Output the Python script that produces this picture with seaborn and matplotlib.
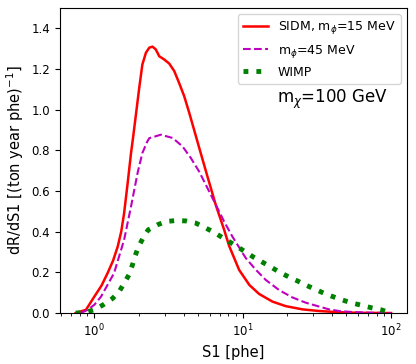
import numpy as np
import matplotlib
matplotlib.use("Agg")
import matplotlib.pyplot as plt
import seaborn as sns

# SIDM, m_phi = 15 MeV
s1_15 = [0.75, 0.88, 1.0, 1.12, 1.23, 1.34, 1.44, 1.52, 1.59, 1.68, 1.77, 1.81, 1.91, 2.01, 2.11,
         2.23, 2.35, 2.47, 2.6, 2.74, 2.96, 3.2, 3.46, 3.73, 4.04, 4.37, 4.67,
         5.09, 5.79, 6.6, 7.5, 8.11, 9.47, 11.1, 12.9, 15.9, 19.5, 25.3, 32.7,
         42.4, 60.0, 100.0]
rate_15 = [0.0, 0.016, 0.08, 0.135, 0.196, 0.258, 0.327, 0.4, 0.491, 0.639, 0.787, 0.84, 0.976, 1.107, 1.222,
           1.28, 1.305, 1.31, 1.296, 1.263, 1.247, 1.227, 1.19, 1.132, 1.066, 0.984, 0.91,
           0.814, 0.672, 0.53, 0.41, 0.33, 0.212, 0.138, 0.094, 0.056, 0.034, 0.018, 0.01,
           0.005, 0.001, 0.0]

# m_phi = 45 MeV
s1_45 = [0.81, 0.9, 1.0, 1.11, 1.36, 1.59, 1.77, 1.96, 2.11, 2.28, 2.35, 2.67,
         2.81, 3.37, 3.93, 4.48, 5.09, 5.79, 6.6, 7.5, 8.53, 10.5, 12.3, 14.3,
         17.6, 21.6, 26.6, 32.7, 38.2, 44.7, 54.8, 71.0, 100.0]
rate_45 = [0.0, 0.015, 0.04, 0.08, 0.196, 0.36, 0.524, 0.689, 0.787, 0.844, 0.86, 0.872,
           0.877, 0.861, 0.82, 0.762, 0.696, 0.615, 0.532, 0.45, 0.376, 0.27, 0.212, 0.163,
           0.113, 0.077, 0.051, 0.032, 0.018, 0.01, 0.005, 0.002, 0.0]

# WIMP
s1_wimp = [0.75, 0.88, 1.03, 1.17, 1.33, 1.47, 1.59, 1.72, 1.81, 1.89, 1.99, 2.14,
           2.31, 2.67, 3.04, 3.55, 4.14, 4.84, 5.51, 6.26, 7.13, 8.11, 9.23, 10.5,
           11.9, 13.6, 15.6, 17.8, 20.3, 23.4, 26.9, 30.8, 35.4, 40.8, 47.0, 54.8,
           63.5, 73.6, 85.7, 95.0]
rate_wimp = [0.0, 0.003, 0.02, 0.044, 0.072, 0.105, 0.146, 0.19, 0.237, 0.283, 0.327, 0.371,
             0.409, 0.434, 0.45, 0.455, 0.453, 0.442, 0.422, 0.401, 0.376, 0.351, 0.326, 0.299,
             0.274, 0.25, 0.225, 0.2, 0.179, 0.158, 0.136, 0.117, 0.097, 0.08, 0.064, 0.049,
             0.038, 0.026, 0.016, 0.005]

fig = plt.figure(figsize=(4.16, 3.64), dpi=100)
ax = fig.add_axes([0.144, 0.14, 0.834, 0.838])

sns.lineplot(x=s1_15, y=rate_15, ax=ax, color="red", lw=1.8,
             label=r"SIDM, m$_\phi$=15 MeV", sort=False)
sns.lineplot(x=s1_45, y=rate_45, ax=ax, color="m", lw=1.5, linestyle="--",
             label=r"m$_\phi$=45 MeV", sort=False)
sns.lineplot(x=s1_wimp, y=rate_wimp, ax=ax, color="green", lw=3.5, linestyle=":",
             label="WIMP", sort=False)

ax.set_xscale("log")
ax.set_ylim(0, 1.5)
ax.set_yticks(np.arange(0, 1.41, 0.2))
ax.tick_params(labelsize=8.5)
ax.set_xlabel("S1 [phe]", fontsize=10.5)
ax.set_ylabel(r"dR/dS1 [(ton year phe)$^{-1}$]", fontsize=10.5)
ax.text(0.945, 0.70, r"m$_\chi$=100 GeV", transform=ax.transAxes,
        ha="right", va="center", fontsize=12)
ax.legend(loc="upper right", fontsize=9)

fig.savefig("out.png", dpi=100)
